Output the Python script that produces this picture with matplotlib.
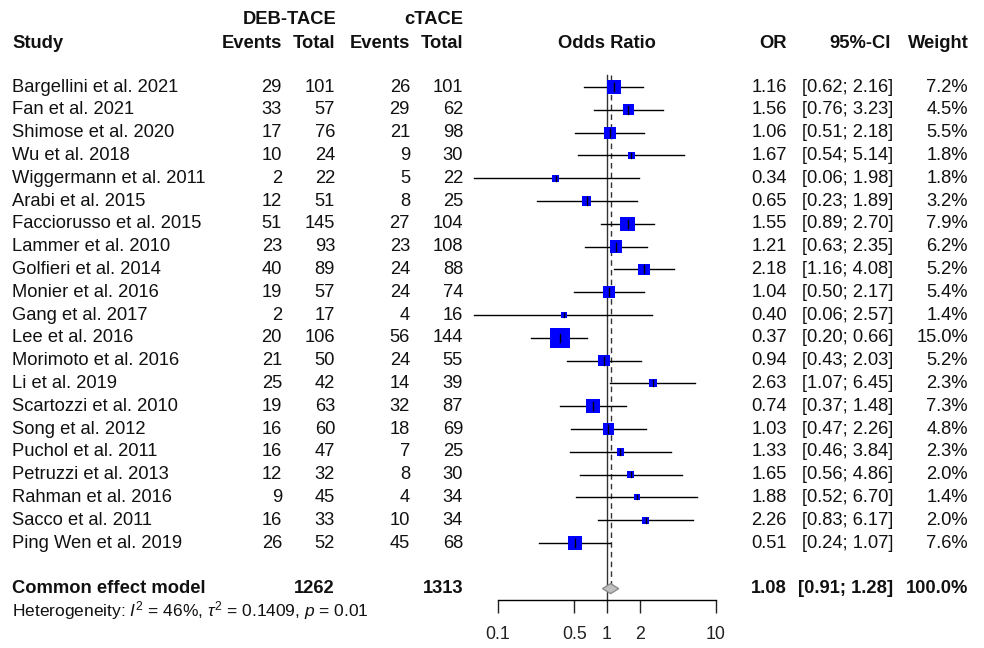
import matplotlib
matplotlib.use("Agg")
import matplotlib.pyplot as plt
from matplotlib.transforms import blended_transform_factory
from matplotlib.patches import Polygon
import numpy as np

plt.rcParams['font.family'] = ['Liberation Sans', 'DejaVu Sans']
plt.rcParams['mathtext.fontset'] = 'custom'
plt.rcParams['mathtext.rm'] = 'Liberation Sans'
plt.rcParams['mathtext.it'] = 'Liberation Sans:italic'

studies = ["Bargellini et al. 2021", "Fan et al. 2021", "Shimose et al. 2020", "Wu et al. 2018",
           "Wiggermann et al. 2011", "Arabi et al. 2015", "Facciorusso et al. 2015", "Lammer et al. 2010",
           "Golfieri et al. 2014", "Monier et al. 2016", "Gang et al. 2017", "Lee et al. 2016",
           "Morimoto et al. 2016", "Li et al. 2019", "Scartozzi et al. 2010", "Song et al. 2012",
           "Puchol et al. 2011", "Petruzzi et al. 2013", "Rahman et al. 2016", "Sacco et al. 2011",
           "Ping Wen et al. 2019"]
deb_events = [29, 33, 17, 10, 2, 12, 51, 23, 40, 19, 2, 20, 21, 25, 19, 16, 16, 12, 9, 16, 26]
deb_total = [101, 57, 76, 24, 22, 51, 145, 93, 89, 57, 17, 106, 50, 42, 63, 60, 47, 32, 45, 33, 52]
c_events = [26, 29, 21, 9, 5, 8, 27, 23, 24, 24, 4, 56, 24, 14, 32, 18, 7, 8, 4, 10, 45]
c_total = [101, 62, 98, 30, 22, 25, 104, 108, 88, 74, 16, 144, 55, 39, 87, 69, 25, 30, 34, 34, 68]
odds = [1.16, 1.56, 1.06, 1.67, 0.34, 0.65, 1.55, 1.21, 2.18, 1.04, 0.40, 0.37, 0.94, 2.63, 0.74,
        1.03, 1.33, 1.65, 1.88, 2.26, 0.51]
ci_lo = [0.62, 0.76, 0.51, 0.54, 0.06, 0.23, 0.89, 0.63, 1.16, 0.50, 0.06, 0.20, 0.43, 1.07, 0.37,
         0.47, 0.46, 0.56, 0.52, 0.83, 0.24]
ci_hi = [2.16, 3.23, 2.18, 5.14, 1.98, 1.89, 2.70, 2.35, 4.08, 2.17, 2.57, 0.66, 2.03, 6.45, 1.48,
         2.26, 3.84, 4.86, 6.70, 6.17, 1.07]
weights = [7.2, 4.5, 5.5, 1.8, 1.8, 3.2, 7.9, 6.2, 5.2, 5.4, 1.4, 15.0, 5.2, 2.3, 7.3, 4.8, 2.3,
           2.0, 1.4, 2.0, 7.6]
pooled_or, pooled_lo, pooled_hi = 1.08, 0.91, 1.28
total_deb, total_c = 1262, 1313
het_text = r"Heterogeneity: $I^2$ = 46%, $\tau^2$ = 0.1409, $p$ = 0.01"
xticks = [0.1, 0.5, 1, 2, 10]

W, H = 984, 648
fig = plt.figure(figsize=(W / 100, H / 100), dpi=100)

# forest axes: x 498..716 px, y 75..600 px
ax = fig.add_axes([498 / W, 1 - 600 / H, (716 - 498) / W, (600 - 75) / H])
ax.set_xscale('log')
ax.set_xlim(0.1, 10)
row0, rowstep = 87, 22.8
ax.set_ylim((600 - row0) / rowstep, (75 - row0) / rowstep)
for s in ['top', 'left', 'right']:
    ax.spines[s].set_visible(False)
ax.spines['bottom'].set_bounds(0.1, 10)
ax.spines['bottom'].set_linewidth(1.0)
ax.set_yticks([])
ax.set_xticks(xticks)
ax.set_xticklabels([f"{t:g}" for t in xticks])
ax.xaxis.set_minor_locator(matplotlib.ticker.NullLocator())
ax.tick_params(axis='x', length=9.4, width=1.0, pad=9, labelsize=12.8, colors='#222222')
ax.patch.set_visible(False)

n = len(studies)
rows = np.arange(n)
sum_row = n + 1

# reference lines
ax.plot([1, 1], [ax.get_ylim()[1], ax.get_ylim()[0]], color='#333333', lw=1.0, clip_on=False)
ax.plot([pooled_or, pooled_or], [ax.get_ylim()[1], sum_row - 0.22], color='#333333', lw=1.0,
        ls=(0, (4, 3)), clip_on=False)

px_per_row = rowstep
for i in range(n):
    y = rows[i]
    ax.plot([ci_lo[i], ci_hi[i]], [y, y], color='black', lw=1.0, clip_on=False, zorder=3)
    side_px = 20 * np.sqrt(weights[i] / 15.0)
    ax.scatter([odds[i]], [y], marker='s', s=(side_px * 0.72) ** 2, color='#0000ff',
               edgecolors='none', zorder=4, clip_on=False)
    half = min(4, side_px / 2 - 1) / px_per_row
    ax.plot([odds[i], odds[i]], [y - half, y + half], color='black', lw=1.0, zorder=5, clip_on=False)

dh = 5 / px_per_row
dia = Polygon([[pooled_lo, sum_row], [pooled_or, sum_row - dh], [pooled_hi, sum_row],
               [pooled_or, sum_row + dh]], closed=True, facecolor='#c0c0c0', edgecolor='#8c8c8c',
              lw=1.0, zorder=4, clip_on=False)
ax.add_patch(dia)

tr = blended_transform_factory(fig.transFigure, ax.transData)
fs = 13.2
col = '#111111'


def rtext(xpx, y, s, ha='right', bold=False):
    ax.text(xpx / W, y, s, transform=tr, ha=ha, va='center', fontsize=fs, color=col,
            fontweight='bold' if bold else 'normal')


def htext(xpx, ypx, s, ha='right', bold=True, size=fs):
    fig.text(xpx / W, 1 - ypx / H, s, ha=ha, va='center', fontsize=size, color=col,
             fontweight='bold' if bold else 'normal')


# headers
htext(336, 20, "DEB-TACE")
htext(463, 20, "cTACE")
htext(12, 43, "Study", ha='left')
htext(282, 43, "Events")
htext(335, 43, "Total")
htext(410, 43, "Events")
htext(463, 43, "Total")
htext(607, 43, "Odds Ratio", ha='center')
htext(787, 43, "OR")
htext(891, 43, "95%-CI")
htext(969, 43, "Weight")

for i in range(n):
    y = rows[i]
    rtext(12, y, studies[i], ha='left')
    rtext(282, y, str(deb_events[i]))
    rtext(335, y, str(deb_total[i]))
    rtext(410, y, str(c_events[i]))
    rtext(463, y, str(c_total[i]))
    rtext(787, y, f"{odds[i]:.2f}")
    rtext(893, y, f"[{ci_lo[i]:.2f}; {ci_hi[i]:.2f}]")
    rtext(968, y, f"{weights[i]:.1f}%")

rtext(12, sum_row, "Common effect model", ha='left', bold=True)
rtext(335, sum_row, str(total_deb), bold=True)
rtext(463, sum_row, str(total_c), bold=True)
rtext(787, sum_row, f"{pooled_or:.2f}", bold=True)
rtext(893, sum_row, f"[{pooled_lo:.2f}; {pooled_hi:.2f}]", bold=True)
rtext(968, sum_row, "100.0%", bold=True)

htext(12, 611, het_text, ha='left', bold=False, size=12.5)

fig.savefig("out.png", dpi=100, facecolor='white')
